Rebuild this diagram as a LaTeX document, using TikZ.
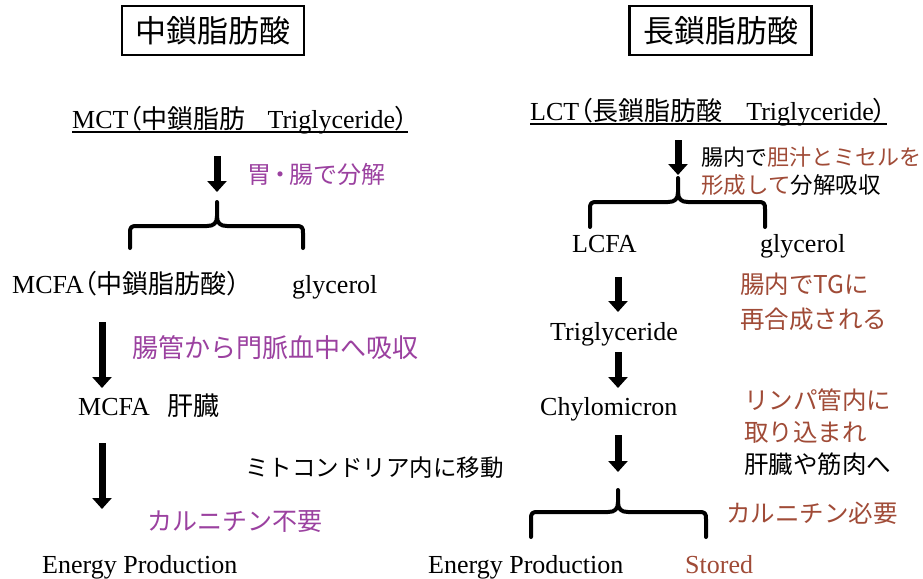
\documentclass[tikz,border=0pt]{standalone}
\usepackage{fontspec}
\setmainfont{Liberation Serif}
\newfontfamily\jp{Noto Sans CJK JP}
\newfontfamily\jpp[RawFeature=+palt]{Noto Sans CJK JP}
\usetikzlibrary{arrows.meta}
\definecolor{mypurple}{RGB}{155,65,160}
\definecolor{mybrown}{RGB}{160,75,55}
\newcommand\mybracepath[6]{% left x, right x, tip x, top y, bar y, bottom y
  \draw[brc] (#1,#6) -- (#1,{#5+7}) .. controls (#1,{#5+1}) and ({#1+1},#5) .. ({#1+7},#5) -- ({#3-10},#5) .. controls ({#3-3},#5) and (#3,{#5-3}) .. (#3,{#5-10}) -- (#3,#4);
  \draw[brc] (#2,#6) -- (#2,{#5+7}) .. controls (#2,{#5+1}) and ({#2-1},#5) .. ({#2-7},#5) -- ({#3+10},#5) .. controls ({#3+3},#5) and (#3,{#5-3}) .. (#3,{#5-10});
}
\begin{document}
\begin{tikzpicture}[x=1pt,y=-1pt,
  lat/.style={anchor=base west, inner sep=0pt, font=\fontsize{26}{30}\selectfont},
  jpl/.style={anchor=west, inner sep=0pt, font=\jp\fontsize{#1}{#1}\selectfont},
  boxt/.style={draw, line width=2.5pt, minimum width=182pt, minimum height=49pt, inner sep=0pt, font=\jp\fontsize{31}{31}\selectfont},
  barrow/.style={line width=7pt, -{Triangle[width=19pt,length=11pt]}},
  brc/.style={line width=4pt, line cap=round, line join=round},
  uline/.style={line width=1.5pt}
]
\fill[white] (0,0) rectangle (923,578);
\useasboundingbox (0,0) rectangle (923,578);

% ---------- left column ----------
\node[boxt] (tl) at (213,30.5) {中鎖脂肪酸};
\node[lat] (mct) at (72,128) {MCT{\jpp （}{\jp 中鎖脂肪}\hspace{22pt}Triglyceride{\jpp ）}};
\draw[uline] ([yshift=-4pt]mct.base west) -- ([yshift=-4pt]mct.base east);

\coordinate (a1s) at (217,156);
\coordinate (a1e) at (217,192);
\draw[barrow] (a1s) -- (a1e);
\node[jpl=24, text=mypurple] (d1) at (247,174) {胃\kern-3pt・\kern-3pt腸で分解};

\mybracepath{130}{303}{217}{202}{226}{248}

\node[lat] (mcfa) at (12,293) {MCFA{\jpp （}{\jp 中鎖脂肪酸}{\jpp ）}};
\node[lat] (gly1) at (292,293) {glycerol};

\coordinate (a2s) at (102,322);
\coordinate (a2e) at (102,388);
\draw[barrow] (a2s) -- (a2e);
\node[jpl=26, text=mypurple] (d2) at (132,348) {腸管から門脈血中へ吸収};

\node[lat] (mcfa2) at (78,415) {MCFA\hspace{18pt}{\jp 肝臓}};

\coordinate (a3s) at (102,443);
\coordinate (a3e) at (102,509);
\draw[barrow] (a3s) -- (a3e);
\node[jpl=23.5] (d3) at (245,468) {ミトコンドリア内に移動};
\node[jpl=25, text=mypurple] (d4) at (147,522) {カルニチン不要};

\node[lat] (ep1) at (42,573) {Energy Production};

% ---------- right column ----------
\node[boxt] (tr) at (720.5,30.5) {長鎖脂肪酸};
\node[lat] (lct) at (530,120) {LCT{\jpp （}{\jp 長鎖脂肪酸}\hspace{24pt}Triglyceride{\jpp ）}};
\draw[uline] ([yshift=-4pt]lct.base west) -- ([yshift=-4pt]lct.base east);

\coordinate (b1s) at (678,140);
\coordinate (b1e) at (678,175);
\draw[barrow] (b1s) -- (b1e);
\node[jpl=22] (r1a) at (701,157) {腸内で\textcolor{mybrown}{胆汁とミセルを}};
\node[jpl=22.5] (r1b) at (701,185) {\textcolor{mybrown}{形成して}分解吸収};

\mybracepath{590}{765}{678}{178}{202}{227}

\node[lat] (lcfa) at (572,252) {LCFA};
\node[lat] (gly2) at (760,252) {glycerol};

\coordinate (b2s) at (618,277);
\coordinate (b2e) at (618,312);
\draw[barrow] (b2s) -- (b2e);
\node[jpl=24.5, text=mybrown] (r2a) at (740,284) {腸内でTGに};
\node[jpl=24.5, text=mybrown] (r2b) at (740,319) {再合成される};

\node[lat] (tg) at (550,340) {Triglyceride};

\coordinate (b3s) at (618,352);
\coordinate (b3e) at (618,388);
\draw[barrow] (b3s) -- (b3e);

\node[lat] (chy) at (540,415) {Chylomicron};
\node[jpl=24.5, text=mybrown] (r3a) at (744,400) {リンパ管内に};
\node[jpl=24.5, text=mybrown] (r3b) at (744,432) {取り込まれ};
\node[jpl=24.5] (r3c) at (744,464) {肝臓や筋肉へ};

\coordinate (b4s) at (618,435);
\coordinate (b4e) at (618,472);
\draw[barrow] (b4s) -- (b4e);

\mybracepath{531}{706}{618}{490}{512}{537}
\node[jpl=24.5, text=mybrown] (r4) at (726,513) {カルニチン必要};

\node[lat] (ep2) at (428,573) {Energy Production};
\node[lat, text=mybrown] (st) at (685,573) {Stored};
\end{tikzpicture}
\end{document}
